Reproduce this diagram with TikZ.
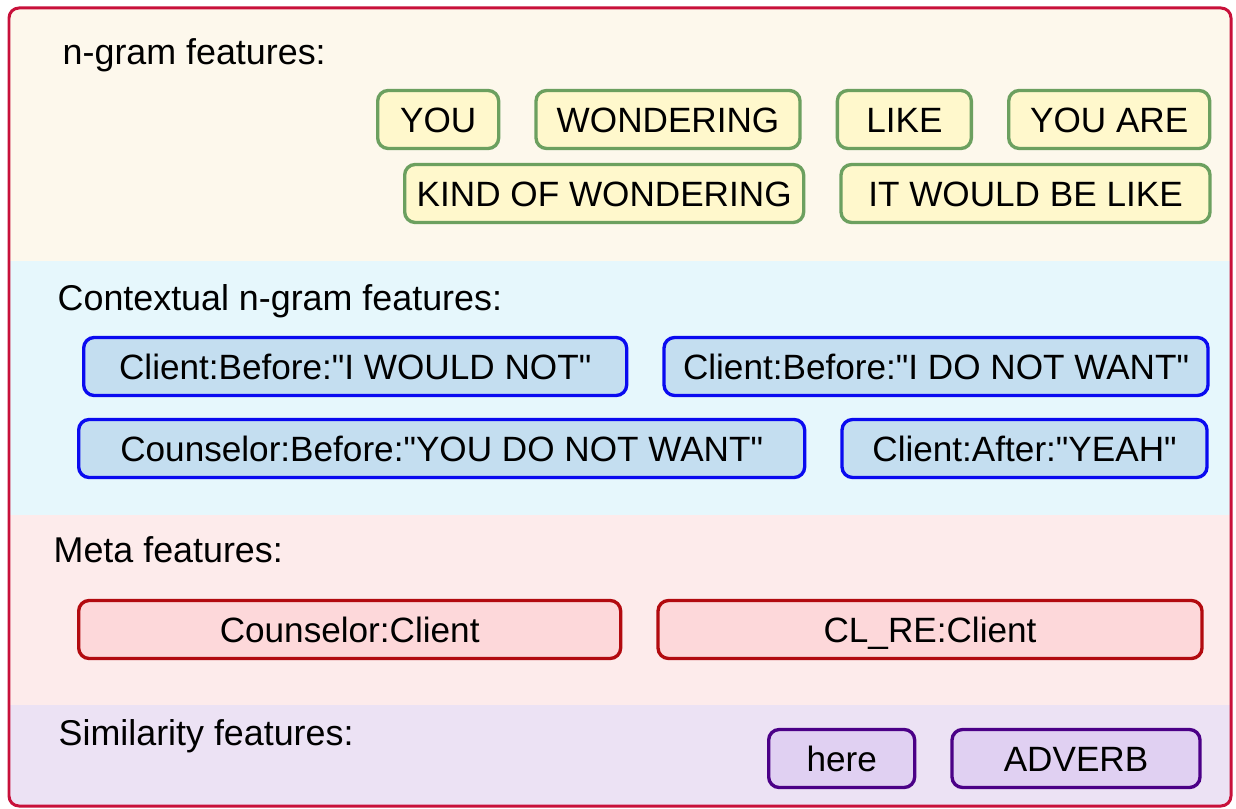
\documentclass[tikz,border=0pt]{standalone}
\usepackage{fontspec}
\setmainfont{Liberation Sans}
\usetikzlibrary{positioning}

\definecolor{framered}{RGB}{200,16,58}
\definecolor{bandyellow}{RGB}{253,248,236}
\definecolor{bandcyan}{RGB}{230,247,252}
\definecolor{bandpink}{RGB}{253,235,235}
\definecolor{bandlav}{RGB}{236,226,244}
\definecolor{ngramfill}{RGB}{255,248,204}
\definecolor{ngramdraw}{RGB}{108,160,95}
\definecolor{ctxfill}{RGB}{196,222,240}
\definecolor{ctxdraw}{RGB}{10,10,240}
\definecolor{metafill}{RGB}{253,216,218}
\definecolor{metadraw}{RGB}{178,10,15}
\definecolor{simfill}{RGB}{224,208,242}
\definecolor{simdraw}{RGB}{75,0,135}

\begin{document}
\begin{tikzpicture}[
  node distance=0.34cm,
  every node/.style={font=\fontsize{10.2}{12}\selectfont},
  title/.style={anchor=base west, inner sep=0pt},
  feat/.style={draw, rounded corners=3pt, line width=0.95pt, minimum height=0.58cm,
    font=\fontsize{10}{12}\selectfont,
    inner xsep=1.5pt, text height=0.72em, text depth=0pt, text centered},
  ngram/.style={feat, draw=ngramdraw, fill=ngramfill},
  ctx/.style={feat, draw=ctxdraw, fill=ctxfill},
  meta/.style={feat, draw=metadraw, fill=metafill},
  sim/.style={feat, draw=simdraw, fill=simfill}
]
\useasboundingbox (0,0) rectangle (12.36,8.08);

% Background bands
\begin{scope}
\clip[rounded corners=0.1cm] (0.09,0.02) rectangle (12.31,8.0);
\fill[bandyellow] (0,5.47) rectangle (12.36,8.08);
\fill[bandcyan] (0,2.93) rectangle (12.36,5.47);
\fill[bandpink] (0,1.03) rectangle (12.36,2.93);
\fill[bandlav] (0,0) rectangle (12.36,1.03);
\end{scope}
\draw[framered, line width=0.85pt, rounded corners=0.1cm] (0.09,0.02) rectangle (12.31,8.0);

% n-gram features
\node[title] (ngramtitle) at (0.62,7.435) {n-gram features:};
\node[ngram, minimum width=1.21cm, anchor=west] (you) at (3.76,6.885) {YOU};
\node[ngram, minimum width=2.64cm, right=of you] (wondering) {WONDERING};
\node[ngram, minimum width=1.34cm, right=of wondering] (like) {LIKE};
\node[ngram, minimum width=2.01cm, right=of like] (youare) {YOU ARE};
\node[ngram, minimum width=3.99cm, anchor=west] (kindof) at (4.03,6.145) {KIND OF WONDERING};
\node[ngram, minimum width=3.69cm, right=of kindof] (itwould) {IT WOULD BE LIKE};

% Contextual n-gram features
\node[title] (ctxtitle) at (0.57,4.97) {Contextual n-gram features:};
\node[ctx, minimum width=5.43cm, anchor=west] (clientnot) at (0.82,4.415)
  {Client:Before:\textquotedbl I WOULD NOT\textquotedbl};
\node[ctx, minimum width=5.44cm, right=of clientnot] (clientwant)
  {Client:Before:\textquotedbl I DO NOT WANT\textquotedbl};
\node[ctx, minimum width=7.26cm, anchor=west] (counselwant) at (0.77,3.595)
  {Counselor:Before:\textquotedbl YOU DO NOT WANT\textquotedbl};
\node[ctx, minimum width=3.65cm, right=of counselwant] (clientyeah)
  {Client:After:\textquotedbl YEAH\textquotedbl};

% Meta features
\node[title] (metatitle) at (0.53,2.46) {Meta features:};
\node[meta, minimum width=5.42cm, anchor=west] (counselclient) at (0.77,1.785) {Counselor:Client};
\node[meta, minimum width=5.44cm, right=of counselclient] (clreclient) {CL\_RE:Client};

% Similarity features
\node[title] (simtitle) at (0.58,0.63) {Similarity features:};
\node[sim, minimum width=1.46cm, anchor=west] (here) at (7.67,0.495) {here};
\node[sim, minimum width=2.48cm, right=of here] (adverb) {ADVERB};
\end{tikzpicture}
\end{document}
